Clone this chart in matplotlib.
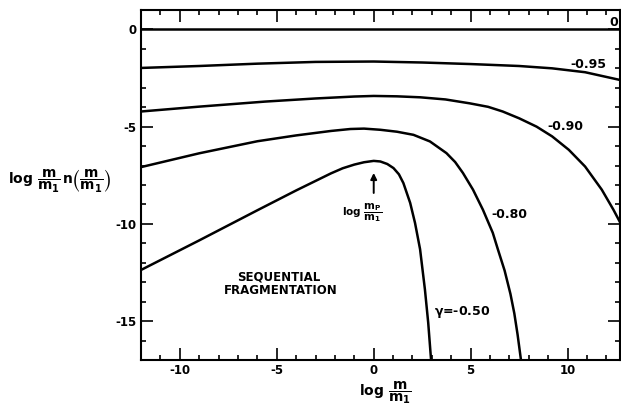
import numpy as np
import matplotlib
matplotlib.use("Agg")
import matplotlib.pyplot as plt
from matplotlib.ticker import MultipleLocator

plt.rcParams['font.family'] = ['DejaVu Sans']
plt.rcParams['font.weight'] = 'bold'
plt.rcParams['axes.unicode_minus'] = False
plt.rcParams['mathtext.fontset'] = 'dejavusans'
plt.rcParams['mathtext.default'] = 'bf'

# curves of log (m/m1) n(m/m1) against log m/m1, one per gamma
x_g00 = [-12.5, 13.0]
y_g00 = [0.0, 0.0]

x_g95 = [-12.0, -9.0, -6.0, -3.0, 0.0, 2.5, 5.0, 7.5, 9.2, 10.9, 12.8]
y_g95 = [-1.98, -1.88, -1.76, -1.67, -1.65, -1.70, -1.78, -1.88, -2.00, -2.20, -2.62]

x_g90 = [-12.0, -9.0, -5.6, -3.0, -1.0, 0.0, 1.2, 2.4, 3.7, 4.95, 5.9, 6.65, 7.5, 8.4,
         9.2, 10.06, 10.9, 11.76, 12.36, 12.8]
y_g90 = [-4.22, -3.97, -3.71, -3.55, -3.45, -3.42, -3.44, -3.49, -3.60, -3.80, -3.98,
         -4.22, -4.57, -5.00, -5.50, -6.19, -7.05, -8.24, -9.27, -10.1]

x_g80 = [-12.0, -9.0, -6.0, -4.0, -2.2, -1.2, -0.5, 0.34, 1.2, 2.05, 2.9, 3.75, 4.2, 4.6, 5.12,
         5.63, 6.14, 6.4, 6.75, 7.05, 7.25, 7.42, 7.58, 7.63]
y_g80 = [-7.08, -6.37, -5.75, -5.45, -5.22, -5.12, -5.10, -5.16, -5.26, -5.42, -5.76, -6.36, -6.82,
         -7.38, -8.24, -9.27, -10.46, -11.3, -12.4, -13.6, -14.6, -15.7, -16.9, -17.3]

x_g50 = [-12.0, -9.0, -6.0, -4.0, -2.2, -1.6, -1.0, -0.5, 0.0, 0.34, 0.7, 1.02, 1.3, 1.53, 1.88,
         2.13, 2.39, 2.64, 2.81, 2.95, 3.0]
y_g50 = [-12.37, -10.85, -9.30, -8.28, -7.40, -7.14, -6.95, -6.83, -6.76, -6.79, -6.92, -7.13,
         -7.45, -7.90, -8.92, -9.95, -11.3, -13.37, -15.08, -16.9, -17.5]

curves = [(x_g00, y_g00), (x_g95, y_g95), (x_g90, y_g90), (x_g80, y_g80), (x_g50, y_g50)]

x_ticks = [-10, -5, 0, 5, 10]
y_ticks = [0, -5, -10, -15]

fig = plt.figure(figsize=(6.21, 4.05), dpi=100)
ax = fig.add_axes([141 / 621, 1 - 360 / 405, 479 / 621, 350 / 405])

for xs, ys in curves:
    ax.plot(xs, ys, color='black', lw=1.8, solid_joinstyle='round', solid_capstyle='butt')

ax.set_xlim(-12, 12.7)
ax.set_ylim(-17, 1)
ax.set_xticks(x_ticks)
ax.set_yticks(y_ticks)
ax.xaxis.set_minor_locator(MultipleLocator(1))
ax.yaxis.set_minor_locator(MultipleLocator(1))
ax.tick_params(which='both', direction='in', top=True, right=True, width=1.2, labelsize=8.5)
ax.tick_params(which='major', length=8.5)
ax.tick_params(which='minor', length=3.5)
ax.tick_params(axis='x', which='major', pad=3)
ax.tick_params(axis='y', which='major', pad=3)
for s in ax.spines.values():
    s.set_linewidth(1.5)

# curve labels
ax.text(12.36, 0.34, '0', ha='center', va='center', fontsize=9, clip_on=False)
ax.text(11.08, -1.78, '-0.95', ha='center', va='center', fontsize=9)
ax.text(9.86, -5.01, '-0.90', ha='center', va='center', fontsize=9)
ax.text(6.99, -9.52, '-0.80', ha='center', va='center', fontsize=9)
ax.text(4.56, -14.53, r'$\gamma$=-0.50', ha='center', va='center', fontsize=9)

ax.text(-4.9, -12.75, 'SEQUENTIAL', ha='center', va='center', fontsize=8.5)
ax.text(-4.8, -13.42, 'FRAGMENTATION', ha='center', va='center', fontsize=8.5)

# peak marker
ax.annotate('', xy=(0, -7.38), xytext=(0, -8.41),
            arrowprops=dict(arrowstyle='-|>', color='black', lw=1.4, mutation_scale=9,
                            shrinkA=0, shrinkB=0))
ax.text(-0.58, -9.42, r'log $\dfrac{m_P}{m_1}$', ha='center', va='center', fontsize=7.5)

fig.text(385 / 621, 1 - 393 / 405, r'log $\dfrac{m}{m_1}$', ha='center', va='center', fontsize=10)
fig.text(60 / 621, 1 - 181 / 405, r'log $\dfrac{m}{m_1}\,n\left(\dfrac{m}{m_1}\right)$',
         ha='center', va='center', fontsize=10)

fig.savefig('out.png', dpi=100)
